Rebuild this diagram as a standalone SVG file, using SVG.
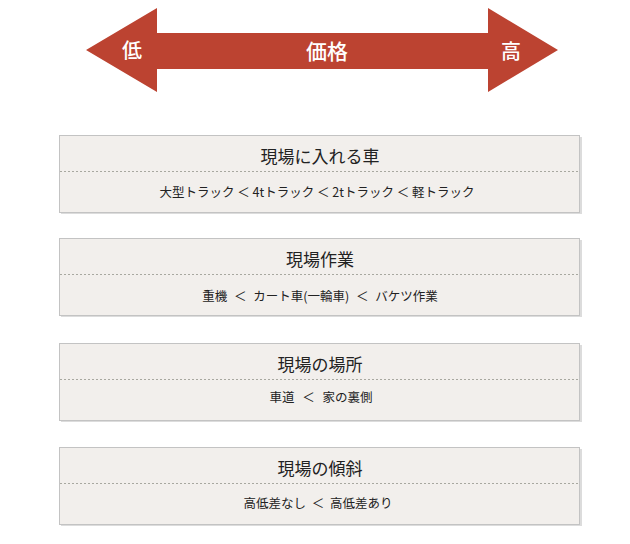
<svg xmlns="http://www.w3.org/2000/svg" width="630" height="544" viewBox="0 0 630 544">
<style>
.box{fill:#F2EFEC;stroke:#C3C3C3;stroke-width:1}
.shadow{fill:#DCDCDC}
.div{stroke:#A8A8A0;stroke-width:1;stroke-dasharray:2,2}
.title{font-family:"Noto Sans CJK JP","Noto Sans",sans-serif;font-size:17px;fill:#222;text-anchor:middle}
.sub{font-family:"Noto Sans CJK JP","Noto Sans",sans-serif;font-size:12.5px;fill:#222;text-anchor:middle}
.arw{font-family:"Noto Sans CJK JP","Noto Sans",sans-serif;fill:#fff;text-anchor:middle;font-weight:500}
</style>
<g id="price-arrow">
<polygon points="86,50 157,8 157,33 488,33 488,8 558,50 488,92 488,69 157,69 157,92" fill="#BC4331"/>
<text class="arw" x="132" y="58" font-size="20">低</text>
<text class="arw" x="327" y="59" font-size="21">価格</text>
<text class="arw" x="511" y="59" font-size="20">高</text>
</g>
<g id="box1">
<rect class="shadow" x="61" y="137" width="521" height="77"/>
<rect class="box" x="59.5" y="135.5" width="520" height="77"/>
<line class="div" x1="60" y1="171.5" x2="579" y2="171.5"/>
<text class="title" x="320" y="163">現場に入れる車</text>
<text class="sub" x="317" y="197">大型トラック ＜ 4tトラック ＜ 2tトラック ＜ 軽トラック</text>
</g>
<g id="box2">
<rect class="shadow" x="61" y="240" width="521" height="77"/>
<rect class="box" x="59.5" y="238.5" width="520" height="77"/>
<line class="div" x1="60" y1="274.5" x2="579" y2="274.5"/>
<text class="title" x="320" y="266">現場作業</text>
<text class="sub" x="320" y="301">重機 <tspan dx="4">＜</tspan> <tspan dx="4">カート車(一輪車)</tspan> <tspan dx="4">＜</tspan> <tspan dx="4">バケツ作業</tspan></text>
</g>
<g id="box3">
<rect class="shadow" x="61" y="345" width="521" height="77"/>
<rect class="box" x="59.5" y="343.5" width="520" height="77"/>
<line class="div" x1="60" y1="379.5" x2="579" y2="379.5"/>
<text class="title" x="320" y="371">現場の場所</text>
<text class="sub" x="321" y="402">車道 <tspan dx="5">＜</tspan> <tspan dx="5">家の裏側</tspan></text>
</g>
<g id="box4">
<rect class="shadow" x="61" y="449" width="521" height="77"/>
<rect class="box" x="59.5" y="447.5" width="520" height="77"/>
<line class="div" x1="60" y1="483.5" x2="579" y2="483.5"/>
<text class="title" x="320" y="475">現場の傾斜</text>
<text class="sub" x="318" y="508">高低差なし <tspan dx="3">＜</tspan> <tspan dx="3">高低差あり</tspan></text>
</g>
<g id="connectors"></g>
</svg>
